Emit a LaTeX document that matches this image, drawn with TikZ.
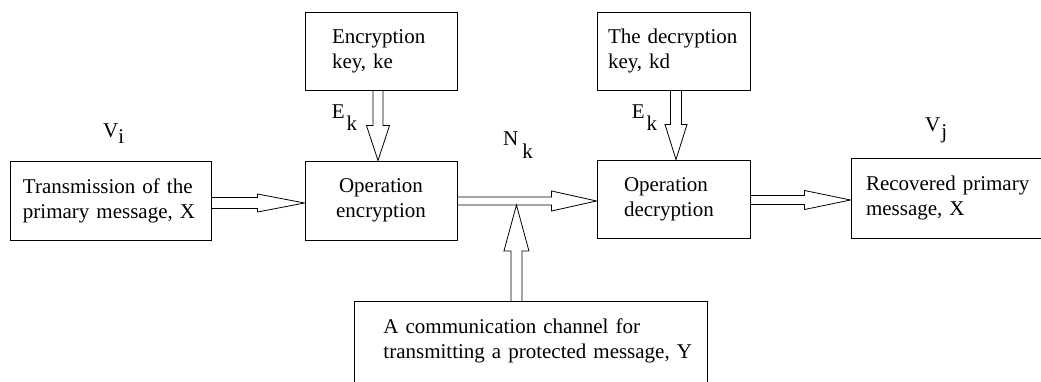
\documentclass[tikz,border=0pt]{standalone}
\usepackage{fontspec}
\setmainfont{Liberation Serif}
\usetikzlibrary{calc}
\tikzset{
  box/.style={draw, line width=0.9pt, inner ysep=2pt, font=\fontsize{21}{25}\selectfont},
  arr/.style={line width=0.8pt, line join=miter},
  lab/.style={font=\fontsize{21}{25}\selectfont, inner sep=0pt, anchor=base west},
}
% horizontal hollow arrow: #1 source anchor, #2 tip, #3 shaft half-width, #4 head half-width, #5 head length
\newcommand\harrow[5]{\draw[arr] let \p1=(#1),\p2=(#2) in
  (\x1,{\y2+#3pt}) -- ({\x2-#5pt},{\y2+#3pt}) -- ({\x2-#5pt},{\y2+#4pt}) -- (\x2,\y2)
  -- ({\x2-#5pt},{\y2-#4pt}) -- ({\x2-#5pt},{\y2-#3pt}) -- (\x1,{\y2-#3pt});}
% vertical hollow arrow: #5 signed head length (canvas, + for downward arrow)
\newcommand\varrow[5]{\draw[arr] let \p1=(#1),\p2=(#2) in
  ({\x2-#3pt},\y1) -- ({\x2-#3pt},{\y2+(#5)*1pt}) -- ({\x2-#4pt},{\y2+(#5)*1pt}) -- (\x2,\y2)
  -- ({\x2+#4pt},{\y2+(#5)*1pt}) -- ({\x2+#3pt},{\y2+(#5)*1pt}) -- ({\x2+#3pt},\y1);}
\begin{document}
\begin{tikzpicture}[x=1pt,y=-1pt]
\clip (0,0) rectangle (1041,381);
\fill[white] (0,0) rectangle (1041,381);

\node[box, minimum width=201pt, minimum height=79pt, inner xsep=13pt, text width=175pt, align=left] (tx) at (110.5,200.5)
  {Transmission of the\\primary message, X};
\node[box, minimum width=152pt, minimum height=78pt, inner xsep=27pt, text width=98pt, align=left] (kenc) at (381,51)
  {Encryption\\key, ke};
\node[box, minimum width=152pt, minimum height=79pt, align=center] (enc) at (381,200.5)
  {Operation\\encryption};
\node[box, minimum width=153pt, minimum height=78pt, inner xsep=11pt, text width=131pt, align=left] (kdec) at (673.5,51)
  {The decryption\\key, kd};
\node[box, minimum width=153pt, minimum height=78pt, inner xsep=27pt, text width=99pt, align=left] (dec) at (673.5,199)
  {Operation\\decryption};
\node[box, minimum width=209pt, minimum height=80pt, inner xsep=15pt, text width=179pt, align=left] (rec) at (955.5,198)
  {Recovered primary\\message, X};
\node[box, draw=none, minimum height=79pt, inner xsep=14.5pt, text width=324pt, align=left, anchor=north west] (ch) at (354,301)
  {\hspace*{14.5pt}A communication channel for\\\hspace*{14.5pt}transmitting a protected message, Y};
\draw[line width=0.9pt] (ch.north west) rectangle ($(ch.north east)+(0,120)$);

% labels
\node[lab] (vi) at (103,137) {V\raisebox{-6pt}{i}};
\node[lab] (ek1) at (331.7,118) {E\kern2pt\raisebox{-12pt}{k}};
\node[lab] (nk) at (503,145) {N\kern4pt\raisebox{-13pt}{k}};
\node[lab] (ek2) at (631.7,118) {E\kern2pt\raisebox{-12pt}{k}};
\node[lab] (vj) at (925,131) {V\kern1pt\raisebox{-7pt}{j}};

% connectors
\harrow{tx.east}{$(enc.west)+(0,2.5)$}{5.5}{9}{47}
\varrow{kenc.south}{$(enc.north)+(-3,0)$}{5}{11.5}{35}
\harrow{enc.east}{$(dec.west)+(0,2)$}{4}{10}{45}
\coordinate (ctop) at ($(ch.north)+(-14.5,0)$);
\coordinate (cline) at ($(dec.west)+(0,6)$);
\coordinate (chtip) at (ctop |- cline);
\varrow{ch.north}{chtip}{5.5}{12.5}{-46}
\varrow{kdec.south}{$(dec.north)+(2.5,0)$}{5.5}{11}{35}
\harrow{dec.east}{$(rec.west)+(0,2)$}{4.5}{9.5}{46}
\end{tikzpicture}
\end{document}
